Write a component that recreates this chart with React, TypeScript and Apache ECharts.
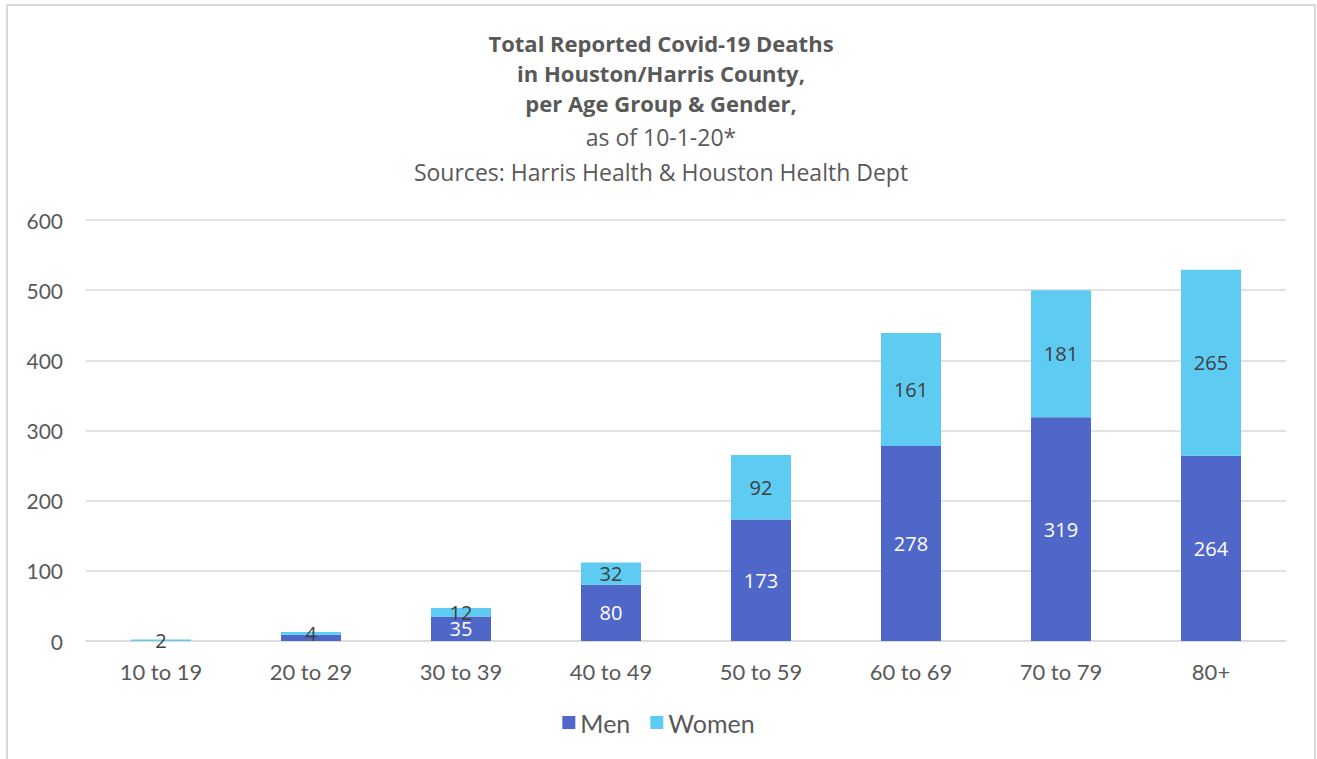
import React, { useEffect, useRef } from "react";
import * as echarts from "echarts";

const categories = ["10 to 19", "20 to 29", "30 to 39", "40 to 49", "50 to 59", "60 to 69", "70 to 79", "80+"];
const menValues = [0, 9, 35, 80, 173, 278, 319, 264];
const womenValues = [2, 4, 12, 32, 92, 161, 181, 265];
const menHiddenLabels = [0, 1];
const yTicks = [0, 100, 200, 300, 400, 500, 600];
const titleLines = [
  "Total Reported Covid-19 Deaths",
  "in Houston/Harris County,",
  "per Age Group & Gender,",
  "as of 10-1-20*",
  "Sources: Harris Health & Houston Health Dept",
];

export default function App() {
  const ref = useRef<HTMLDivElement>(null);
  useEffect(() => {
    if (!ref.current) return;
    const chart = echarts.init(ref.current, null, { renderer: "svg" });
    const titleY = [43, 73, 103, 137, 172];
    const titleGraphics = titleLines.map((t, i) => ({
      type: "text",
      x: 661,
      y: titleY[i],
      style: {
        text: t,
        fill: "#595959",
        font: i < 3 ? `bold 22px "Open Sans", sans-serif` : `23px "Open Sans", sans-serif`,
        textAlign: "center",
        textVerticalAlign: "middle",
      },
    }));
    chart.setOption({
      animation: false,
      backgroundColor: "#ffffff",
      graphic: [
        {
          type: "rect",
          shape: { x: 7, y: 5, width: 1308, height: 800 },
          style: { fill: "none", stroke: "#d9d9d9", lineWidth: 2 },
          z: -1,
        },
        ...titleGraphics,
      ],
      legend: {
        data: ["Men", "Women"],
        left: "center",
        top: 705,
        itemWidth: 13,
        itemHeight: 13,
        itemGap: 20,
        icon: "rect",
        textStyle: { fontFamily: "Lato", fontSize: 25, color: "#595959" },
      },
      grid: { left: 86, right: 31, top: 220, bottom: 118 },
      xAxis: {
        type: "category",
        data: categories,
        axisLine: { lineStyle: { color: "#d9d9d9", width: 1.5 } },
        axisTick: { show: false },
        axisLabel: { fontFamily: "Lato", fontSize: 22, color: "#595959", margin: 19 },
      },
      yAxis: {
        type: "value",
        min: yTicks[0],
        max: yTicks[yTicks.length - 1],
        interval: 100,
        axisLine: { show: false },
        axisTick: { show: false },
        splitLine: { lineStyle: { color: "#d9d9d9", width: 1.5 } },
        axisLabel: { fontFamily: "Lato", fontSize: 21, color: "#595959", margin: 23 },
      },
      series: [
        {
          name: "Men",
          type: "bar",
          stack: "total",
          barWidth: "40%",
          itemStyle: { color: "#4f67c8" },
          label: {
            show: true,
            position: "inside",
            color: "#ffffff",
            fontFamily: "Open Sans",
            fontSize: 20,
          },
          data: menValues.map((v, i) =>
            menHiddenLabels.includes(i) ? { value: v, label: { show: false } } : v
          ),
        },
        {
          name: "Women",
          type: "bar",
          stack: "total",
          barWidth: "40%",
          itemStyle: { color: "#5ecbf3" },
          label: {
            show: true,
            position: "inside",
            color: "#404040",
            fontFamily: "Open Sans",
            fontSize: 20,
          },
          data: womenValues,
        },
      ],
    });
    return () => chart.dispose();
  }, []);
  return (
    <div
      ref={ref}
      style={{ position: "absolute", left: 0, top: 0, width: 1317, height: 759 }}
    />
  );
}
